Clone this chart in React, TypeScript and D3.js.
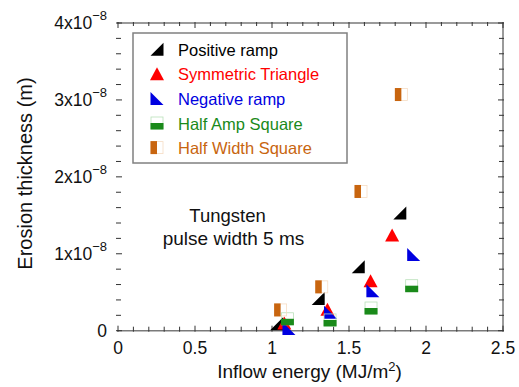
import React from 'react';
import * as d3 from 'd3';

// inflow energy (MJ/m^2) and erosion thickness (units of 1e-8 m)
const posRampX = [1.03, 1.3, 1.56, 1.83];
const posRampY = [0.09, 0.42, 0.83, 1.53];
const symTriX = [1.08, 1.36, 1.64, 1.78];
const symTriY = [0.1, 0.28, 0.65, 1.245];
const negRampX = [1.11, 1.38, 1.655, 1.92];
const negRampY = [0.03, 0.24, 0.52, 0.99];
const halfAmpX = [1.1, 1.377, 1.643, 1.907];
const halfAmpY = [0.155, 0.14, 0.295, 0.585];
const halfWidthX = [1.056, 1.323, 1.578, 1.84];
const halfWidthY = [0.27, 0.57, 1.81, 3.07];

const xTicks = [0, 0.5, 1, 1.5, 2, 2.5];
const xTickLabels = ['0', '0.5', '1', '1.5', '2', '2.5'];
const yTicks = [0, 1, 2, 3, 4];
const seriesNames = ['Positive ramp', 'Symmetric Triangle', 'Negative ramp', 'Half Amp Square', 'Half Width Square'];
const seriesColors = ['#000000', '#ff0000', '#0000e0', '#1a8a1a', '#c8650f'];
const lightColors = ['', '', '', '#b9e0b9', '#f6dcc4'];

const W = 519;
const H = 387;
const x = d3.scaleLinear().domain([0, 2.5]).range([118, 503]);
const y = d3.scaleLinear().domain([0, 4]).range([330.7, 23]);
const FONT = '"Liberation Sans", Arial, sans-serif';
const S = 13;

function Marker({ kind, cx, cy }: { kind: number; cx: number; cy: number }) {
  const h = S / 2;
  const c = seriesColors[kind];
  if (kind === 0) {
    return <path d={`M${cx - h},${cy + h}L${cx + h},${cy + h}L${cx + h},${cy - h}Z`} fill={c} />;
  }
  if (kind === 1) {
    return <path d={`M${cx - h - 0.5},${cy + h}L${cx + h + 0.5},${cy + h}L${cx},${cy - h}Z`} fill={c} />;
  }
  if (kind === 2) {
    return <path d={`M${cx - h},${cy - h}L${cx - h},${cy + h}L${cx + h},${cy + h}Z`} fill={c} />;
  }
  if (kind === 3) {
    return (
      <g>
        <rect x={cx - h + 0.5} y={cy - h + 0.5} width={S - 1} height={S - 1} fill="none" stroke={lightColors[3]} strokeWidth={0.8} />
        <rect x={cx - h} y={cy} width={S} height={h} fill={c} />
      </g>
    );
  }
  return (
    <g>
      <rect x={cx - h + 0.5} y={cy - h + 0.5} width={S - 1} height={S - 1} fill="none" stroke={lightColors[4]} strokeWidth={0.8} />
      <rect x={cx - h} y={cy - h} width={h} height={S} fill={c} />
    </g>
  );
}

export default function App() {
  const series = [
    { xs: posRampX, ys: posRampY },
    { xs: symTriX, ys: symTriY },
    { xs: negRampX, ys: negRampY },
    { xs: halfAmpX, ys: halfAmpY },
    { xs: halfWidthX, ys: halfWidthY },
  ];
  const xMinor = d3.range(0, 26).map((i) => i / 10);
  const yMinor = d3.range(0, 21).map((i) => i / 5);

  return (
    <svg width={W} height={H} style={{ position: 'absolute', left: 0, top: 0, background: '#fff' }} fontFamily={FONT}>
      {/* frame: top, right, bottom */}
      <path d={`M${x(0) - 1},${y(4)}H${x(2.5)}V${y(0)}H${x(0) - 1}`} fill="none" stroke="#7a7a7a" strokeWidth={1.5} />

      {/* bottom and top ticks */}
      {xMinor.map((v, i) => {
        const major = i % 5 === 0;
        return (
          <g key={'xt' + i} stroke="#333" strokeWidth={1}>
            <line x1={x(v)} x2={x(v)} y1={y(0) + 1} y2={y(0) - (major ? 5 : 4)} />
            <line x1={x(v)} x2={x(v)} y1={y(4) - 1} y2={y(4) + (major ? 5 : 3)} />
          </g>
        );
      })}
      {/* left and right ticks */}
      {yMinor.map((v, i) => {
        const major = i % 5 === 0;
        return (
          <g key={'yt' + i} stroke="#333" strokeWidth={1}>
            <line x1={x(0) - 2} x2={x(0) + (major ? 4 : 3)} y1={y(v)} y2={y(v)} />
            <line x1={x(2.5) + 1} x2={x(2.5) - (major ? 5 : 4)} y1={y(v)} y2={y(v)} />
          </g>
        );
      })}

      {/* x tick labels */}
      {xTicks.map((v, i) => (
        <text key={'xl' + i} x={x(v)} y={353.5} textAnchor="middle" fontSize={17.5} fill="#111">
          {xTickLabels[i]}
        </text>
      ))}
      {/* y tick labels */}
      {yTicks.map((v) =>
        v === 0 ? (
          <text key={'yl' + v} x={107} y={y(v) + 6} textAnchor="end" fontSize={17.5} fill="#111">0</text>
        ) : (
          <text key={'yl' + v} x={107} y={y(v) + 6} textAnchor="end" fontSize={17.5} fill="#111">
            {`${v}x10`}
            <tspan dy={-9} fontSize={13}>−8</tspan>
          </text>
        )
      )}

      {/* axis titles */}
      <text x={309.5} y={378} textAnchor="middle" fontSize={19} fill="#111">
        Inflow energy (MJ/m<tspan dy={-7} fontSize={13}>2</tspan><tspan dy={7}>)</tspan>
      </text>
      <text transform={`translate(32,173.5) rotate(-90)`} textAnchor="middle" fontSize={20} fill="#111">
        Erosion thickness (m)
      </text>

      {/* annotation */}
      <text x={227.5} y={222} textAnchor="middle" fontSize={18.5} fill="#111">Tungsten</text>
      <text x={233.5} y={245} textAnchor="middle" fontSize={19} fill="#111">pulse width 5 ms</text>

      {/* data */}
      {series.map((s, k) =>
        s.xs.map((xv, i) => <Marker key={`m${k}-${i}`} kind={k} cx={x(xv)} cy={y(s.ys[i])} />)
      )}

      {/* legend */}
      <rect x={133} y={33} width={214} height={130} fill="#fff" stroke="#808080" strokeWidth={1.5} />
      {seriesNames.map((name, k) => {
        const base = 55.7 + k * 24.6;
        return (
          <g key={'lg' + k}>
            <Marker kind={k} cx={157} cy={base - 6.5} />
            <text x={178} y={base} fontSize={16.5} fill={seriesColors[k]}>{name}</text>
          </g>
        );
      })}
    </svg>
  );
}
